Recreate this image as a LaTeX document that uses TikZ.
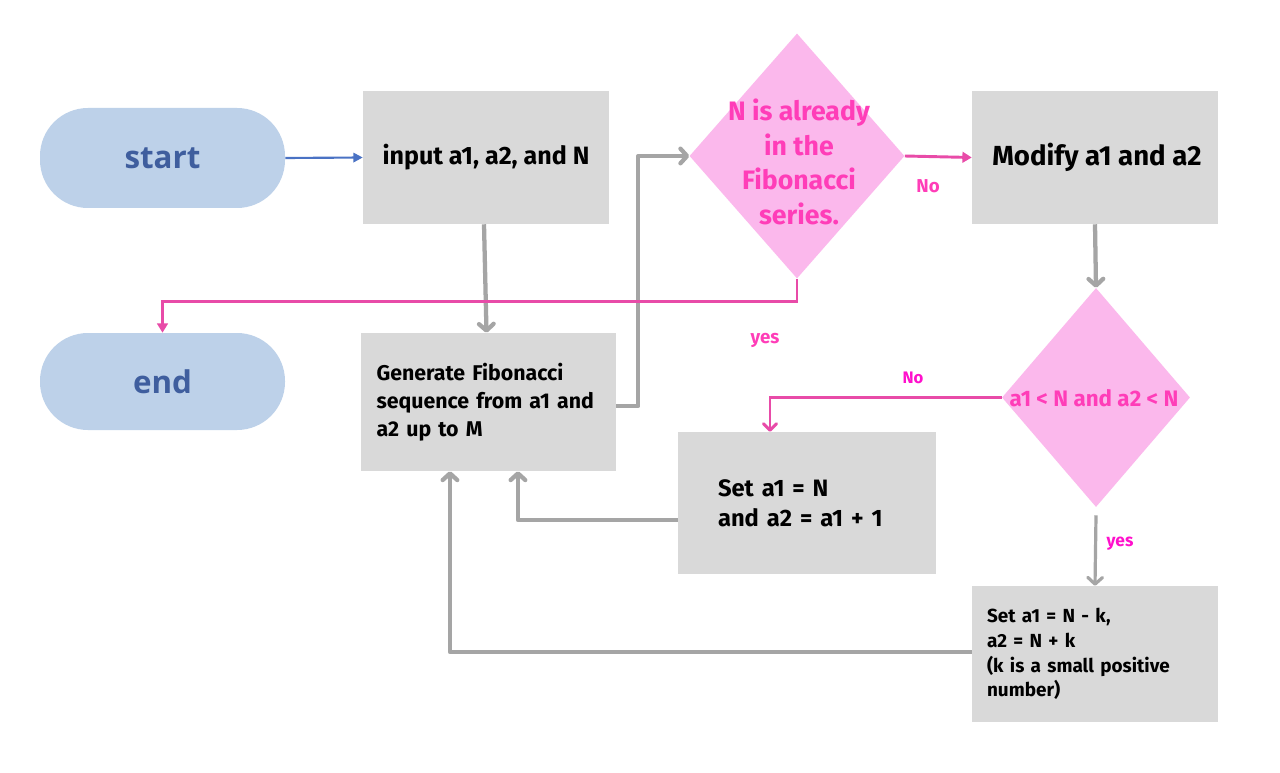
\documentclass[tikz,border=0pt]{standalone}
\usepackage{fontspec}
\setmainfont{Fira Sans}
\newfontfamily\termfont{Open Sans}
\usetikzlibrary{shapes.geometric,arrows.meta,calc}
\definecolor{boxgray}{HTML}{D9D9D9}
\definecolor{linegray}{HTML}{A5A5A5}
\definecolor{pinkfill}{HTML}{FBB8EC}
\definecolor{pinktext}{HTML}{FF3DB8}
\definecolor{pinklabel}{HTML}{FF10CC}
\definecolor{pinkline}{HTML}{E84BA8}
\definecolor{bluefill}{HTML}{BDD1E9}
\definecolor{bluetext}{HTML}{3F5E9E}
\definecolor{bluearrow}{HTML}{4A72C4}
\begin{document}
\begin{tikzpicture}[x=0.75pt,y=-0.75pt,
  term/.style={fill=bluefill, rounded corners=36pt, minimum width=183.75pt, inner sep=0pt,
    text=bluetext, font=\termfont\bfseries\fontsize{23.5}{27}\selectfont},
  procbox/.style={fill=boxgray, inner sep=0pt, font=\bfseries},
  decision/.style={diamond, fill=pinkfill, inner sep=0pt},
  dtext/.style={text=pinktext, font=\bfseries, align=center, inner sep=0pt},
  lbl/.style={font=\bfseries, inner sep=0pt},
  grayarrow/.style={draw=linegray, line width=3.2pt, line join=round,
    -{Straight Barb[length=5pt,width=11pt,round]}},
  pinkarrow/.style={draw=pinkline, line width=2.2pt, -{Triangle[length=7pt,width=8pt]}},
  bluearr/.style={draw=bluearrow, line width=1.6pt, -{Triangle[length=7pt,width=7pt]}}
]
\useasboundingbox (0,0) rectangle (1280,773);
\fill[white] (0,0) rectangle (1280,773);

% nodes
\node[term, minimum height=75pt] (start) at (162.5,158) {start};
\node[term, minimum height=72.75pt] (endn) at (162.5,381.5) {end};

\node[procbox, minimum width=184.5pt, minimum height=99.75pt,
  font=\bfseries\fontsize{18.8}{22}\selectfont] (input) at (486,157.5) {input a1, a2, and N};

\node[decision, minimum width=161.25pt, minimum height=183.75pt] (d1) at (797,156) {};
\node[dtext, font=\bfseries\fontsize{20}{26}\selectfont] (d1t) at (799,162) {N is already\\in the\\Fibonacci\\series.};

\node[procbox, minimum width=184.5pt, minimum height=99.75pt,
  font=\bfseries\fontsize{20.7}{24}\selectfont] (modify) at (1095,157.5) {\hspace*{3pt}Modify a1 and a2};

\node[decision, minimum width=141pt, minimum height=164.25pt] (d2) at (1096,397.5) {};
\node[dtext, font=\bfseries\fontsize{16.8}{19}\selectfont] (d2t) at (1094,398) {a1 < N and a2 < N};

\node[procbox, minimum width=191.25pt, minimum height=103.5pt, text width=168pt,
  inner xsep=11.6pt, align=left, font=\bfseries\fontsize{16}{21}\selectfont] (gen) at (488.5,402)
  {Generate Fibonacci\\sequence from a1 and\\a2 up to M};

\node[procbox, minimum width=193.5pt, minimum height=106.5pt, text width=133.5pt,
  inner xsep=30pt, align=left, font=\bfseries\fontsize{17.8}{22.5}\selectfont] (setn) at (807,503)
  {Set a1 = N\\and a2 = a1 + 1};

\node[procbox, minimum width=184.5pt, minimum height=102pt, text width=162pt,
  inner xsep=11.25pt, align=left, font=\bfseries\fontsize{14.2}{18.5}\selectfont] (setk) at (1095,654)
  {Set a1 = N - k,\\a2 = N + k\\(k is a small positive\\number)};

% labels
\node[lbl, text=pinktext, font=\bfseries\fontsize{14}{16}\selectfont] (lno1) at (928,186) {No};
\node[lbl, text=pinktext, font=\bfseries\fontsize{14}{16}\selectfont] (lyes1) at (765,340) {yes};
\node[lbl, text=pinklabel, font=\bfseries\fontsize{12.5}{14}\selectfont] (lno2) at (913,378) {No};
\node[lbl, text=pinklabel, font=\bfseries\fontsize{13}{15}\selectfont] (lyes2) at (1120,544) {yes};

% connectors
\draw[bluearr] (start.east) -- (input.west);
\draw[grayarrow] ([xshift=-1.5pt]input.south) -- ([xshift=-1.5pt]gen.north);
\draw[grayarrow] ([yshift=-3pt]gen.east) -- ++(22,0) |- (d1.west);
\draw[pinkarrow] (d1.east) -- (modify.west);
\draw[pinkarrow] (d1.south) -- ++(0,23) -| (endn.north);
\draw[grayarrow] (modify.south) -- (d2.north);
\draw[pinkarrow, -{Straight Barb[length=5pt,width=10pt,round]}] (d2.west) -| ([xshift=-27.75pt]setn.north);
\draw[grayarrow, line width=2.4pt] ([yshift=-6pt]d2.south) -- (setk.north);
\draw[grayarrow] ([yshift=-12.75pt]setn.west) -- ++(-158,0) -| ([xshift=22.1pt]gen.south);
\draw[grayarrow] ([yshift=1.5pt]setk.west) -- ++(-517,0) -| ([xshift=-28.9pt]gen.south);
\end{tikzpicture}
\end{document}
